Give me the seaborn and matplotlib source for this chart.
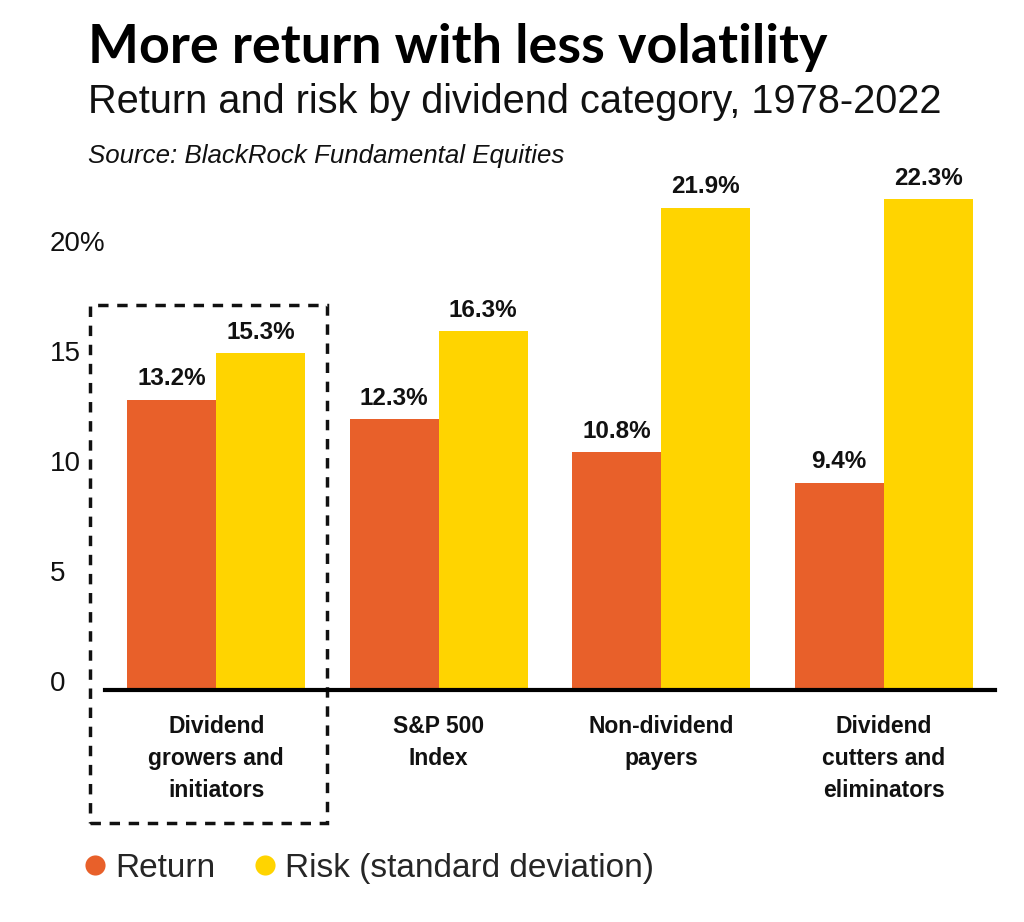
import matplotlib
matplotlib.use("Agg")
import matplotlib.pyplot as plt
import seaborn as sns
import pandas as pd
from matplotlib.patches import Rectangle
from matplotlib.lines import Line2D
from matplotlib.transforms import ScaledTranslation, blended_transform_factory

categories = ["Dividend\ngrowers and\ninitiators", "S&P 500\nIndex", "Non-dividend\npayers", "Dividend\ncutters and\neliminators"]
series = ["Return", "Risk (standard deviation)"]
returns = [13.2, 12.3, 10.8, 9.4]
risks = [15.3, 16.3, 21.9, 22.3]
ytick_vals = [0, 5, 10, 15, 20]
ytick_labels = ["0", "5", "10", "15", "20%"]
colors = ["#E8602A", "#FFD400"]

df = pd.DataFrame({
    "category": categories * 2,
    "series": [series[0]] * 4 + [series[1]] * 4,
    "value": returns + risks,
})

sns.set_theme(style="white")
plt.rcParams["font.family"] = ["Liberation Sans", "DejaVu Sans"]

fig = plt.figure(figsize=(10.24, 9.22), dpi=100)
ax = fig.add_axes([105 / 1024, 1 - 690 / 922, 890 / 1024, 528 / 922])

sns.barplot(data=df, x="category", y="value", hue="series", palette=colors,
            ax=ax, legend=False, width=0.8, saturation=1, edgecolor="none", linewidth=0)

ax.set_ylim(0, 24)
ax.set_xlim(-0.5, 3.5)
ax.set_xlabel("")
ax.set_ylabel("")

for cont, vals in zip(ax.containers, [returns, risks]):
    ax.bar_label(cont, labels=[f"{v}%" for v in vals], padding=7,
                 fontsize=17.5, fontweight="bold", color="#111111")

# y tick labels: left aligned, sitting slightly above their tick values
ax.set_yticks(ytick_vals)
ax.set_yticklabels([])
ax.tick_params(axis="y", length=0)
ytrans = blended_transform_factory(fig.transFigure, ax.transData) + \
    ScaledTranslation(0, 6 / 100, fig.dpi_scale_trans)
for v, l in zip(ytick_vals, ytick_labels):
    ax.text(50 / 1024, v, l, transform=ytrans, fontsize=20, color="#111111",
            ha="left", va="center", clip_on=False)

ax.set_xticks(range(len(categories)))
ax.set_xticklabels(categories, fontsize=16.5, fontweight="bold", color="#111111", linespacing=1.5)
ax.tick_params(axis="x", length=0, pad=18)

for s in ["top", "right", "left"]:
    ax.spines[s].set_visible(False)
ax.spines["bottom"].set_color("black")
ax.spines["bottom"].set_linewidth(3)

# dashed highlight box around first group
rect = Rectangle((-0.567, -6.05), 1.065, 23.55, fill=False, edgecolor="#111111",
                 linestyle=(0, (3, 2.5)), linewidth=2.5, clip_on=False)
ax.add_patch(rect)

fig.text(88 / 1024, 1 - 63 / 922, "More return with less volatility", fontsize=38.8,
         fontweight="bold", family=["Lato", "DejaVu Sans"], va="baseline", ha="left", color="black")
fig.text(88 / 1024, 1 - 113 / 922, "Return and risk by dividend category, 1978-2022",
         fontsize=28.6, va="baseline", ha="left", color="#111111")
fig.text(88 / 1024, 1 - 163 / 922, "Source: BlackRock Fundamental Equities",
         fontsize=18.6, style="italic", va="baseline", ha="left", color="#111111")

handles = [Line2D([], [], marker="o", linestyle="none", markersize=14.5,
                  markerfacecolor=c, markeredgecolor="none") for c in colors]
fig.legend(handles, series, loc="center left", bbox_to_anchor=(82 / 1024, 1 - 868 / 922),
           frameon=False, fontsize=24, handletextpad=0.2, columnspacing=1.1, ncol=2,
           handlelength=0.8, borderaxespad=0, borderpad=0)

fig.savefig("out.png", dpi=100, facecolor="white")
